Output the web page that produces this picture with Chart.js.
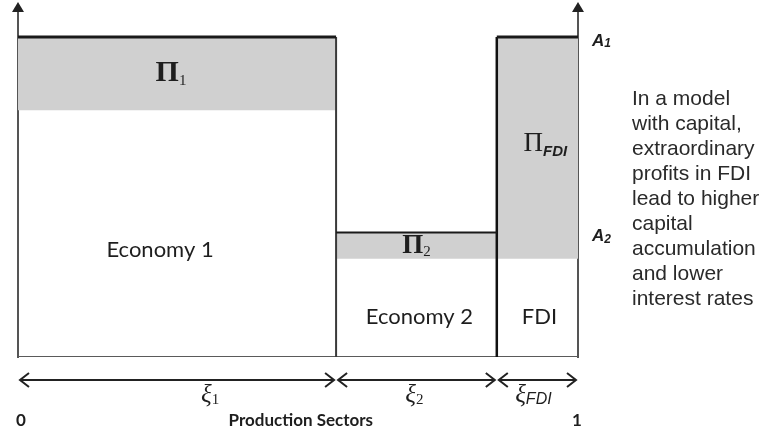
<!DOCTYPE html>
<html>
<head>
<meta charset="utf-8">
<script src="https://cdn.jsdelivr.net/npm/chart.js@4.4.1/dist/chart.umd.min.js"></script>
<style>
  html, body { margin: 0; padding: 0; background: #fff; overflow: hidden; }
  canvas { display: block; }
</style>
</head>
<body>
<canvas id="myChart" width="763" height="440"></canvas>
<script>
// values (x = share of production sectors, y = productivity level)
const sectors = ["Economy 1", "Economy 2", "FDI"];
const shareLabels = ["1", "2", "FDI"];
const shares = [0.568, 0.287, 0.145];     // xi_1, xi_2, xi_FDI
const topLevels = [1.0, 0.389, 1.0];      // A1, A2, A1
const profitFloor = [0.771, 0.307, 0.307]; // bottom of the grey profit areas
const levelLabels = ["1", "2"];
const levelValues = [1.0, 0.389];
const noteLines = [
  "In a model",
  "with capital,",
  "extraordinary",
  "profits in FDI",
  "lead to higher",
  "capital",
  "accumulation",
  "and lower",
  "interest rates",
];

// sector edges along the x axis
const edges = [0];
for (let i = 0; i < shares.length; i++) {
  edges.push(edges[i] + shares[i]);
}

const GREY = "#d0d0d0";
const datasets = [];

// outlines of the blocks
const outline = (pts, width, color) => ({
  data: pts,
  showLine: true,
  borderColor: color,
  borderWidth: width,
  pointRadius: 0,
  fill: false,
  order: 1,
});
// top edges
for (let i = 0; i < sectors.length; i++) {
  datasets.push(outline([{ x: edges[i], y: topLevels[i] }, { x: edges[i + 1], y: topLevels[i] }],
    i == 1 ? 2 : 3, "#1a1a1a"));
}
// dividing walls between sectors
datasets.push(outline([{ x: edges[1], y: 0 }, { x: edges[1], y: topLevels[0] }], 2, "#3a3a3a"));
datasets.push(outline([{ x: edges[2], y: 0 }, { x: edges[2], y: topLevels[2] }], 2.5, "#111"));
// bottom edge
datasets.push(outline([{ x: 0, y: 0 }, { x: 1, y: 0 }], 2, "#5a5a5a"));

// grey profit areas
for (let i = 0; i < sectors.length; i++) {
  datasets.push({
    data: [{ x: edges[i], y: topLevels[i] }, { x: edges[i + 1], y: topLevels[i] }],
    showLine: true,
    borderWidth: 0,
    borderColor: GREY,
    backgroundColor: GREY,
    pointRadius: 0,
    fill: { value: profitFloor[i] },
    order: 2,
  });
}

// draws a symbol with a subscript, centred on (cx, cy)
function subText(ctx, main, mainFont, sub, subFont, cx, cy, subDy) {
  ctx.font = mainFont;
  const w1 = ctx.measureText(main).width;
  ctx.font = subFont;
  const w2 = ctx.measureText(sub).width;
  const left = cx - (w1 + w2) / 2;
  ctx.textAlign = "left";
  ctx.textBaseline = "middle";
  ctx.font = mainFont;
  ctx.fillText(main, left, cy);
  ctx.font = subFont;
  ctx.fillText(sub, left + w1, cy + subDy);
}

const annotate = {
  id: "annotate",
  beforeDatasetsDraw(chart) {
    const { ctx, chartArea, scales: { x, y } } = chart;
    // the two vertical axes with arrow heads
    ctx.save();
    ctx.strokeStyle = "#555";
    ctx.fillStyle = "#222";
    ctx.lineWidth = 2;
    [0, 1].forEach(function (v) {
      const px = x.getPixelForValue(v);
      ctx.beginPath();
      ctx.moveTo(px, y.getPixelForValue(0) + 1);
      ctx.lineTo(px, chartArea.top + 6);
      ctx.stroke();
      ctx.beginPath();
      ctx.moveTo(px, chartArea.top - 3);
      ctx.lineTo(px - 6, chartArea.top + 7);
      ctx.lineTo(px + 6, chartArea.top + 7);
      ctx.closePath();
      ctx.fill();
    });
    ctx.restore();
  },
  afterDatasetsDraw(chart) {
    const { ctx, scales: { x, y } } = chart;
    const base = y.getPixelForValue(0);
    ctx.save();
    ctx.fillStyle = "#1e1e1e";

    // sector names
    const nameOffset = [-17, 3, 2];
    const nameLevel = [0.334, 0.125, 0.125];
    ctx.font = "22px Lato";
    ctx.textAlign = "center";
    ctx.textBaseline = "middle";
    for (let i = 0; i < sectors.length; i++) {
      const cx = x.getPixelForValue((edges[i] + edges[i + 1]) / 2) + nameOffset[i];
      ctx.fillText(sectors[i], cx, y.getPixelForValue(nameLevel[i]));
    }

    // profit symbols
    const p1x = x.getPixelForValue((edges[0] + edges[1]) / 2) - 6;
    subText(ctx, "\u03A0", "bold 30px 'Liberation Serif'", "1", "15px 'Liberation Serif'",
      p1x, y.getPixelForValue((topLevels[0] + profitFloor[0]) / 2), 7);
    const p2x = x.getPixelForValue((edges[1] + edges[2]) / 2);
    subText(ctx, "\u03A0", "bold 27px 'Liberation Serif'", "2", "15px 'Liberation Serif'",
      p2x, y.getPixelForValue((topLevels[1] + profitFloor[1]) / 2), 6);
    const p3x = x.getPixelForValue((edges[2] + edges[3]) / 2) + 8;
    subText(ctx, "\u03A0", "27px 'Liberation Serif'", "FDI", "bold italic 15px 'Liberation Sans'",
      p3x, y.getPixelForValue(0.665), 8);

    // level labels A1, A2 on the right axis
    for (let i = 0; i < levelLabels.length; i++) {
      const lx = x.getPixelForValue(1) + 14;
      const ly = y.getPixelForValue(levelValues[i]) + 4;
      ctx.textAlign = "left";
      ctx.textBaseline = "middle";
      ctx.font = "bold italic 17px 'Liberation Sans'";
      ctx.fillText("A", lx, ly);
      const wA = ctx.measureText("A").width;
      ctx.font = "bold italic 12px 'Liberation Sans'";
      ctx.fillText(levelLabels[i], lx + wA, ly + 3);
    }

    // double arrows for the sector shares
    const ay = base + 23;
    ctx.strokeStyle = "#222";
    ctx.lineWidth = 2;
    for (let i = 0; i < shares.length; i++) {
      const a = x.getPixelForValue(edges[i]) + 2;
      const b = x.getPixelForValue(edges[i + 1]) - 2;
      ctx.beginPath();
      ctx.moveTo(a, ay);
      ctx.lineTo(b, ay);
      ctx.moveTo(a + 9, ay - 7);
      ctx.lineTo(a, ay);
      ctx.lineTo(a + 9, ay + 7);
      ctx.moveTo(b - 9, ay - 7);
      ctx.lineTo(b, ay);
      ctx.lineTo(b - 9, ay + 7);
      ctx.stroke();
    }
    const xiOffset = [33, -2, -4];
    for (let i = 0; i < shares.length; i++) {
      const cx = x.getPixelForValue((edges[i] + edges[i + 1]) / 2) + xiOffset[i];
      const subFont = i == 2 ? "italic 16px 'Liberation Sans'" : "15px 'Liberation Serif'";
      subText(ctx, "\u03BE", "italic 25px 'Liberation Serif'", shareLabels[i], subFont, cx, ay + 15, 5);
    }

    // axis labels
    ctx.font = "bold 17px Lato";
    ctx.textBaseline = "middle";
    ctx.textAlign = "center";
    ctx.fillText("0", x.getPixelForValue(0) + 3, base + 64);
    ctx.fillText("1", x.getPixelForValue(1) - 1, base + 64);
    ctx.fillText("Production Sectors", x.getPixelForValue(0.505), base + 64);

    // side note
    ctx.font = "21px 'Liberation Sans'";
    ctx.fillStyle = "#2a2a2a";
    ctx.textAlign = "left";
    for (let i = 0; i < noteLines.length; i++) {
      ctx.fillText(noteLines[i], 632, 99 + i * 25);
    }
    ctx.restore();
  },
};

const ctx = document.getElementById("myChart").getContext("2d");

new Chart(ctx, {
  type: "scatter",
  data: { datasets: datasets },
  options: {
    responsive: false,
    animation: false,
    devicePixelRatio: 1,
    layout: { padding: { left: 18, right: 185, top: 5, bottom: 83 } },
    plugins: {
      legend: { display: false },
      tooltip: { enabled: false },
    },
    scales: {
      x: { type: "linear", min: 0, max: 1, display: false },
      y: { type: "linear", min: 0, max: 1.1, display: false },
    },
  },
  plugins: [annotate],
});
</script>
</body>
</html>
